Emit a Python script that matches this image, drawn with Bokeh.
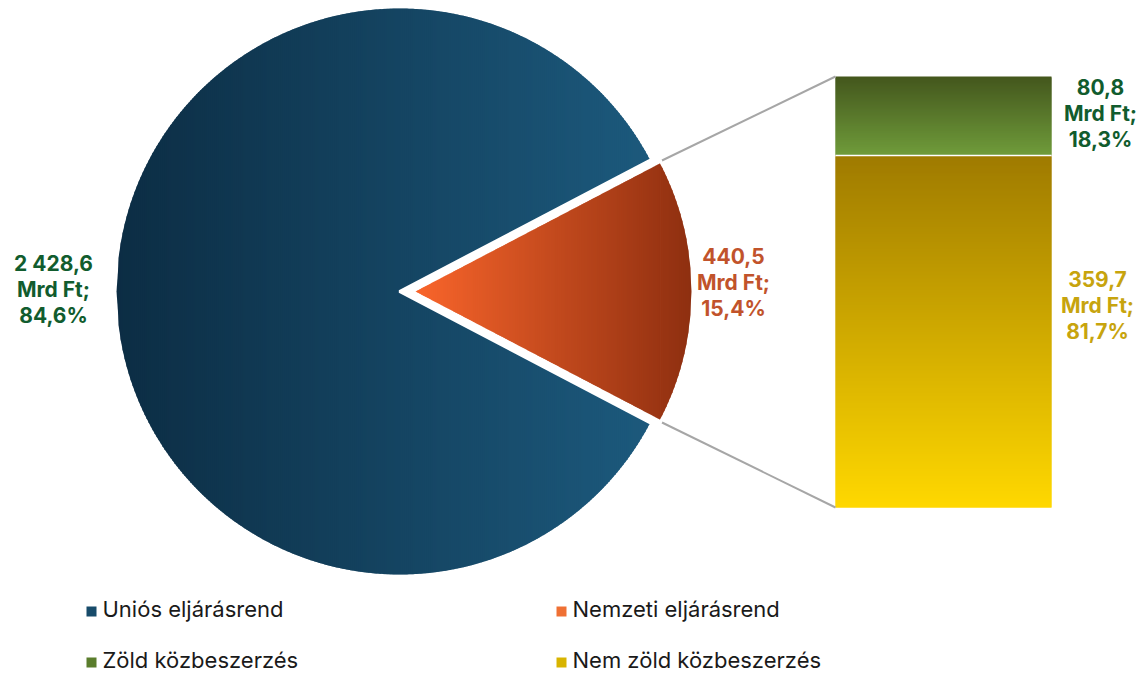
import numpy as np
from bokeh.plotting import figure
from bokeh.models import Range1d
from bokeh.core.properties import value
from bokeh.embed import file_html
from bokeh.resources import INLINE

# ---- data ----
main_categories = ["Uniós eljárásrend", "Nemzeti eljárásrend"]
main_values = [2428.6, 440.5]
sub_categories = ["Zöld közbeszerzés", "Nem zöld közbeszerzés"]
sub_values = [80.8, 359.7]
unit = "Mrd Ft"

FONT = "Inter"


def fmt_num(v):
    return f"{v:,.1f}".replace(",", " ").replace(".", ",")


def fmt_pct(f):
    return f"{f * 100:.1f}".replace(".", ",") + "%"


def hex2rgb(h):
    h = h.lstrip("#")
    return tuple(int(h[i:i + 2], 16) for i in (0, 2, 4))


def lerp(c1, c2, t):
    a, b = hex2rgb(c1), hex2rgb(c2)
    return "#%02x%02x%02x" % tuple(int(round(x + (y - x) * t)) for x, y in zip(a, b))


W, H = 1145, 674
p = figure(width=W, height=H, x_range=Range1d(0, W), y_range=Range1d(H, 0),
           output_backend="svg", toolbar_location=None,
           x_axis_location=None, y_axis_location=None,
           min_border=0, min_border_left=0, min_border_right=0,
           min_border_top=0, min_border_bottom=0)
p.grid.visible = False
p.outline_line_color = None

total_main = sum(main_values)
frac_sub = main_values[1] / total_main
theta = np.pi * frac_sub  # half-angle of exploded slice

# ---- main pie (blue) ----
cx, cy, R = 399.0, 291.0, 283.0
blue_l, blue_r = "#0c2d44", "#1d5c80"
xs = np.arange(cx - R, cx + R, 2.0)
pxs, pys, cols = [], [], []
for x0 in xs:
    x1e = min(x0 + 3.0, cx + R)
    h0 = np.sqrt(max(R * R - (x0 - cx) ** 2, 0))
    h1 = np.sqrt(max(R * R - (x1e - cx) ** 2, 0))
    pxs.append([x0, x1e, x1e, x0])
    pys.append([cy - h0, cy - h1, cy + h1, cy + h0])
    cols.append(lerp(blue_l, blue_r, (x0 + 1 - (cx - R)) / (2 * R)))
p.patches(pxs, pys, fill_color=cols, line_color=None)

# notch (white) where the slice was pulled out
angs = np.linspace(-theta, theta, 60)
nx = [cx] + list(cx + (R + 5) * np.cos(angs))
ny = [cy] + list(cy - (R + 5) * np.sin(angs))
p.patch(nx, ny, fill_color="white", line_color="white", line_width=3)

# ---- exploded slice (orange) ----
ox, r_o = 415.0, 276.0
or_l, or_r = "#f9652b", "#8e2f10"
brk = r_o * np.cos(theta)
ds = np.unique(np.concatenate([np.arange(0, r_o, 2.0), [brk, r_o]]))


def half_o(d):
    return min(d * np.tan(theta), np.sqrt(max(r_o * r_o - d * d, 0)))


pxs, pys, cols = [], [], []
for d0, d1 in zip(ds[:-1], ds[1:]):
    d1e = min(d1 + 1.0, r_o)
    if d0 < brk:
        d1e = min(d1e, brk)
    xsamp = [d0, brk, d1e] if d0 < brk < d1e else [d0, d1e]
    hs = [half_o(d) for d in xsamp]
    pxs.append([ox + d for d in xsamp] + [ox + d for d in reversed(xsamp)])
    pys.append([cy - h for h in hs] + [cy + h for h in reversed(hs)])
    cols.append(lerp(or_l, or_r, ((d0 + d1) / 2) / r_o))
p.patches(pxs, pys, fill_color=cols, line_color=None)

# ---- stacked bar ----
bx0, bx1, by_top, by_bot = 835.0, 1051.0, 76.0, 507.0
sub_total = sum(sub_values)
scale = (by_bot - by_top) / sub_total
seg_top = by_top
bar_grad = [("#44571d", "#709c3b"), ("#9f7b00", "#ffd800")]
seg_bounds = []
for v, (c_top, c_bot) in zip(sub_values, bar_grad):
    seg_bot = seg_top + v * scale
    ys = np.arange(seg_top, seg_bot, 1.0)
    tops = ys
    bots = np.minimum(ys + 2.0, seg_bot)
    cl = [lerp(c_top, c_bot, (y - seg_top) / (seg_bot - seg_top)) for y in ys]
    p.quad(left=bx0, right=bx1, top=tops, bottom=bots, fill_color=cl, line_color=None)
    seg_bounds.append((seg_top, seg_bot))
    seg_top = seg_bot
p.segment(x0=[bx0], y0=[seg_bounds[0][1]], x1=[bx1], y1=[seg_bounds[0][1]],
          line_color="white", line_width=1.5)

# ---- connector lines ----
cxp = ox + r_o * np.cos(theta) + 2
p.segment(x0=[cxp, cxp], y0=[cy - r_o * np.sin(theta) - 3, cy + r_o * np.sin(theta) + 3],
          x1=[bx0, bx0], y1=[by_top, by_bot], line_color="#a6a6a6", line_width=2)

# ---- data labels ----
lab_txt = []
for v in main_values:
    lab_txt.append(f"{fmt_num(v)}\n{unit};\n{fmt_pct(v / total_main)}")
for v in sub_values:
    lab_txt.append(f"{fmt_num(v)}\n{unit};\n{fmt_pct(v / sub_total)}")
lab_x = [53, 733, 1100, 1097]
lab_y = [289, 282, 113, 305]
lab_c = ["#115c2e", "#c1532b", "#115c2e", "#c7a40e"]
p.text(x=lab_x, y=lab_y, text=lab_txt, text_color=lab_c, text_font=value(FONT),
       text_font_size="21px", text_font_style="bold", text_align="center",
       text_baseline="middle", text_line_height=1.05)

# ---- legend ----
leg_names = main_categories + sub_categories
leg_x = [91, 561, 91, 561]
leg_y = [611, 611, 662, 662]
leg_c = ["#174b6a", "#ef7034", "#5a7d2c", "#d8b400"]
p.rect(x=leg_x, y=leg_y, width=10, height=10, fill_color=leg_c, line_color=None)
p.text(x=[x + 11 for x in leg_x], y=[y - 3 for y in leg_y], text=leg_names, text_color="#1a1a1a",
       text_font=value(FONT), text_font_size="22px", text_align="left", text_baseline="middle")

open("out.html", "w").write(file_html(p, INLINE))
